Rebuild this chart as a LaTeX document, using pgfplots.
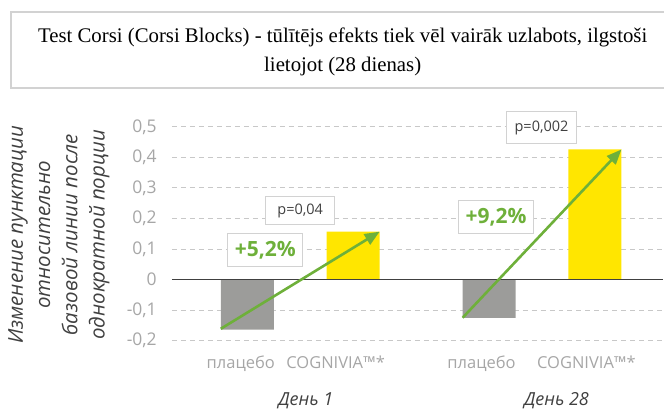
\documentclass[border=0pt]{standalone}
\usepackage{fontspec}
\setmainfont{Open Sans}
\newfontfamily\titlefont{Liberation Serif}
\usepackage{pgfplots}
\pgfplotsset{compat=1.18}
\usetikzlibrary{arrows.meta}
\definecolor{tickgrey}{RGB}{166,166,166}
\definecolor{darktext}{RGB}{64,64,64}
\definecolor{gridgrey}{RGB}{200,200,200}
\definecolor{bargrey}{RGB}{156,156,154}
\definecolor{baryellow}{RGB}{255,230,0}
\definecolor{arrowgreen}{RGB}{110,176,58}
\definecolor{boxgrey}{RGB}{210,210,210}
\begin{document}
\begin{tikzpicture}
\begin{scope}[x=1bp,y=1bp]
\useasboundingbox (0,0) rectangle (664,414);
\draw[boxgrey, line width=1.2bp, fill=white] (11,326) rectangle (670,402);
\node[anchor=base, font=\titlefont\fontsize{20.8bp}{29bp}\selectfont, text=black] at (343,371) {Test Corsi (Corsi Blocks) - tūlītējs efekts tiek vēl vairāk uzlabots, ilgstoši};
\node[anchor=base, font=\titlefont\fontsize{20.8bp}{29bp}\selectfont, text=black] at (343,342) {lietojot (28 dienas)};
\node[rotate=90, align=center, font=\itshape\fontsize{20.5bp}{27.3bp}\selectfont, text=darktext] at (59,179) {Изменение пунктации\\относительно\\базовой линии после\\однократной порции};
\node[font=\itshape\fontsize{18bp}{18bp}\selectfont, text=darktext] at (306,13) {День 1};
\node[font=\itshape\fontsize{18bp}{18bp}\selectfont, text=darktext] at (557,13) {День 28};
\end{scope}
\begin{axis}[
  at={(172bp,73bp)}, anchor=south west,
  width=492bp, height=214bp, scale only axis,
  xmin=172, xmax=664, ymin=-0.2, ymax=0.5,
  ytick={-0.2,-0.1,0,0.1,0.2,0.3,0.4,0.5},
  /pgf/number format/use comma,
  /pgf/number format/fixed,
  /pgf/number format/precision=1,
  /pgf/number format/assume math mode=true,
  yticklabel style={font=\fontsize{17.5bp}{17.5bp}\selectfont, text=tickgrey, inner sep=0pt, xshift=-15bp},
  xtick={241,336,482,587},
  xticklabels={плацебо, COGNIVIA™*, плацебо, COGNIVIA™*},
  xticklabel style={font=\fontsize{16.5bp}{16.5bp}\selectfont, text=tickgrey, anchor=north, inner sep=0pt, yshift=-15bp},
  ymajorgrids,
  grid style={gridgrey, line width=1bp, dash pattern=on 5bp off 4bp},
  axis line style={draw=none},
  major tick length=0pt,
  clip=false,
]
\addplot[ybar, bar width=53, bar shift=0pt, fill=bargrey, draw=none] coordinates {(247.5,-0.164) (489.5,-0.125)};
\addplot[ybar, bar width=53, bar shift=0pt, fill=baryellow, draw=none] coordinates {(353.5,0.157) (595.5,0.426)};
\draw[darktext, line width=1.2bp] (axis cs:172,0) -- (axis cs:664,0);
\addplot[arrowgreen, line width=2.6bp, -{Triangle[length=15bp,width=12bp]}] coordinates {(221,-0.161) (380,0.157)};
\addplot[arrowgreen, line width=2.6bp, -{Triangle[length=15bp,width=12bp]}] coordinates {(463,-0.125) (622,0.426)};
\node[draw=boxgrey, line width=1.2bp, fill=white, minimum width=69bp, minimum height=28bp, inner sep=0pt, text=darktext, font=\fontsize{14.5bp}{14.5bp}\selectfont] at (axis cs:300.5,0.226) {p=0,04};
\node[draw=boxgrey, line width=1.2bp, fill=white, minimum width=70bp, minimum height=32bp, inner sep=0pt, text=darktext, font=\fontsize{14.5bp}{14.5bp}\selectfont] at (axis cs:542,0.498) {p=0,002};
\node[draw=boxgrey, line width=1.2bp, fill=white, minimum width=75bp, minimum height=33bp, inner sep=0pt, text=arrowgreen, font=\bfseries\fontsize{21bp}{21bp}\selectfont] at (axis cs:265.5,0.097) {+5,2\%};
\node[draw=boxgrey, line width=1.2bp, fill=white, minimum width=75bp, minimum height=33bp, inner sep=0pt, text=arrowgreen, font=\bfseries\fontsize{21bp}{21bp}\selectfont] at (axis cs:496.5,0.205) {+9,2\%};
\end{axis}
\end{tikzpicture}
\end{document}
